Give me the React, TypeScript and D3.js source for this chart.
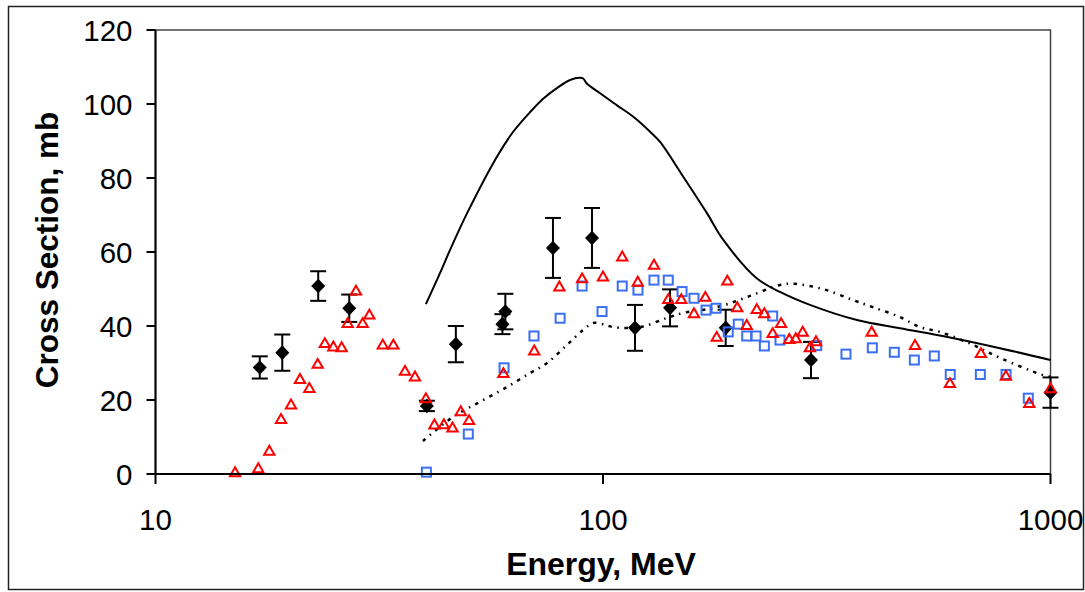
import React from "react";
import * as d3 from "d3";

// Measured cross sections with uncertainties (black diamonds)
const measE = [17.1, 19.2, 23.1, 27.1, 40.4, 46.9, 60.5, 59.6, 77.3, 94.5, 117.9, 141.2, 188, 291.6, 1000];
const measSigma = [28.8, 32.8, 50.8, 44.8, 18.4, 35.1, 43.9, 40.5, 61.1, 63.8, 39.5, 44.9, 39.5, 30.8, 22];
const measErr = [3, 4.9, 4, 3.7, 1.4, 4.9, 4.8, 2.7, 8.1, 8.1, 6.2, 5, 4.9, 4.9, 4.1];

// Data set A (red triangles)
const triE = [15.06, 16.97, 17.96, 19.08, 20.08, 21.03, 22.07, 23.04, 23.9, 24.97, 26.06, 26.88, 28.05, 29.04, 30.05, 32.2, 34, 36.1, 38, 40.2, 42, 44.1, 46.1, 48.1, 50.2, 59.9, 70.2, 79.9, 89.8, 100, 110.4, 119.6, 130, 139.9, 149.6, 159.7, 169.3, 179.5, 189.6, 199.5, 209.5, 220.6, 229.4, 239.4, 250, 260.8, 269.6, 279.4, 290, 299.2, 398.5, 498, 596, 699, 795, 896.6, 1000];
const triSigma = [0.2, 1.3, 6, 14.6, 18.5, 25.4, 23, 29.5, 35.1, 34.2, 34, 40.5, 49.3, 40.5, 42.8, 34.7, 34.7, 27.6, 26.1, 20.2, 13.1, 13.2, 12.3, 16.7, 14.3, 27, 33.1, 50.4, 52.6, 53.1, 58.5, 51.7, 56.3, 47, 47, 43.2, 47.6, 36.8, 52, 44.8, 40, 44.3, 43.2, 37.8, 40.5, 36.2, 36.4, 38.2, 34, 35.6, 38.2, 34.6, 24.3, 32.4, 26.3, 18.9, 22.9];

// Data set B (blue squares)
const sqE = [40.3, 50, 60.1, 70.1, 80.2, 89.8, 99.5, 110.4, 119.7, 130, 139.9, 150.2, 159.7, 169.9, 178.9, 190.5, 200.6, 209.5, 219.8, 229.4, 239.4, 248.6, 300.3, 349.1, 399.8, 447.7, 496.3, 550, 597, 697, 795.5, 892];
const sqSigma = [0.5, 10.8, 28.7, 37.3, 42.1, 50.8, 43.9, 50.8, 49.7, 52.4, 52.4, 49.3, 47.5, 44.3, 44.8, 38.4, 40.5, 37.3, 37.3, 34.6, 42.7, 36.2, 34.7, 32.4, 34.1, 32.9, 30.8, 31.9, 26.9, 26.9, 26.9, 20.5];

// Calculation 1 (solid curve)
const calc1E = [40.2, 43.2, 45.5, 49.7, 57.9, 63, 68.7, 73.6, 78.9, 84.4, 88.9, 90.3, 91.9, 98.5, 107.3, 116.7, 127.4, 134, 151, 170.7, 185.9, 220.5, 248.6, 290, 369.5, 461, 596, 771, 1000];
const calc1Sigma = [45.9, 54.2, 60.5, 70.5, 85.7, 92.5, 97.8, 101.5, 104.3, 106.5, 107.1, 106.9, 105.6, 102.9, 99.7, 96.6, 92.5, 89.8, 80.4, 70.5, 63.2, 52.9, 49.2, 45.7, 41.6, 39.4, 36.9, 34, 30.8];

// Calculation 2 (dotted curve)
const calc2E = [39.6, 46.2, 53.1, 61, 68.7, 75, 83.1, 90.2, 95, 100, 105.3, 121, 139, 151, 179.8, 209.8, 248.6, 265.8, 310, 362, 401, 461, 511, 566, 671, 771, 947, 1000];
const calc2Sigma = [8.9, 15.4, 19.5, 23.5, 27.3, 30, 34.9, 38.9, 40.8, 40.5, 39.7, 39.7, 42.2, 43.5, 45.1, 47.8, 51.1, 51.4, 50, 47, 45.1, 42.4, 39.7, 38.4, 34.9, 31.4, 27, 26.2];

const xTicks = [10, 100, 1000];
const yTicks = [0, 20, 40, 60, 80, 100, 120];

const W = 1085;
const H = 592;
const FONT = "'Liberation Sans', Arial, Helvetica, sans-serif";

export default function App() {
  const x = d3.scaleLog().domain([10, 1000]).range([155.5, 1050.5]);
  const y = d3.scaleLinear().domain([0, 120]).range([474, 30]);

  const line = d3
    .line<[number, number]>()
    .x((d) => x(d[0]))
    .y((d) => y(d[1]))
    .curve(d3.curveCatmullRom.alpha(0.5));

  const calc1 = calc1E.map((e, i) => [e, calc1Sigma[i]] as [number, number]);
  const calc2 = calc2E.map((e, i) => [e, calc2Sigma[i]] as [number, number]);

  const tri = d3.symbol().type(d3.symbolTriangle).size(46)();
  const diamond = "M0,-7.3L7,0L0,7.3L-7,0Z";

  const [x0, x1] = x.range();
  const [y0, y1] = y.range();

  return (
    <svg
      width={W}
      height={H}
      style={{ position: "absolute", left: 0, top: 0, background: "#fff" }}
      fontFamily={FONT}
    >
      <rect x={8.5} y={6.5} width={1075} height={583} fill="none" stroke="#222" strokeWidth={1.5} />

      {/* plot frame */}
      <rect x={x0} y={y1} width={x1 - x0} height={y0 - y1} fill="none" stroke="#444" strokeWidth={1.5} />

      {/* curves */}
      <path d={line(calc1) || ""} fill="none" stroke="#000" strokeWidth={2} />
      <path
        d={line(calc2) || ""}
        fill="none"
        stroke="#000"
        strokeWidth={2.5}
        strokeDasharray="3.5 5.5 1.5 5.5"
      />

      {/* measured points with error bars */}
      {measE.map((e, i) => {
        const cx = x(e);
        const top = y(measSigma[i] + measErr[i]);
        const bot = y(measSigma[i] - measErr[i]);
        return (
          <g key={"m" + i} stroke="#000" strokeWidth={2}>
            <line x1={cx} x2={cx} y1={top} y2={bot} />
            <line x1={cx - 8} x2={cx + 8} y1={top} y2={top} />
            <line x1={cx - 8} x2={cx + 8} y1={bot} y2={bot} />
            <path d={diamond} transform={`translate(${cx},${y(measSigma[i])})`} fill="#000" stroke="none" />
          </g>
        );
      })}

      {sqE.map((e, i) => (
        <rect
          key={"s" + i}
          x={x(e) - 4.5}
          y={y(sqSigma[i]) - 4.5}
          width={9}
          height={9}
          fill="none"
          stroke="#3a6ff2"
          strokeWidth={2}
        />
      ))}

      {triE.map((e, i) => (
        <path
          key={"t" + i}
          d={tri}
          transform={`translate(${x(e)},${y(triSigma[i])})`}
          fill="none"
          stroke="#ff0000"
          strokeWidth={2}
        />
      ))}

      {/* axes */}
      <line x1={x0} x2={x0} y1={y1} y2={y0} stroke="#000" strokeWidth={2} />
      <line x1={x0} x2={x1} y1={y0} y2={y0} stroke="#000" strokeWidth={2} />
      {yTicks.map((t) => (
        <g key={"yt" + t}>
          <line x1={x0 - 9} x2={x0} y1={y(t)} y2={y(t)} stroke="#000" strokeWidth={2} />
          <text x={x0 - 23} y={y(t)} dy="0.36em" textAnchor="end" fontSize={29.5} fill="#000">
            {t}
          </text>
        </g>
      ))}
      {xTicks.map((t) => (
        <g key={"xt" + t}>
          <line x1={x(t)} x2={x(t)} y1={y0} y2={y0 + 10} stroke="#000" strokeWidth={2} />
          <text x={x(t)} y={530} textAnchor="middle" fontSize={29.5} fill="#000">
            {t}
          </text>
        </g>
      ))}

      <text x={601} y={575} textAnchor="middle" fontSize={32} fontWeight="bold" fill="#000">
        Energy, MeV
      </text>
      <text
        transform="translate(58,250) rotate(-90)"
        textAnchor="middle"
        fontSize={31.5}
        fontWeight="bold"
        fill="#000"
      >
        Cross Section, mb
      </text>
    </svg>
  );
}
